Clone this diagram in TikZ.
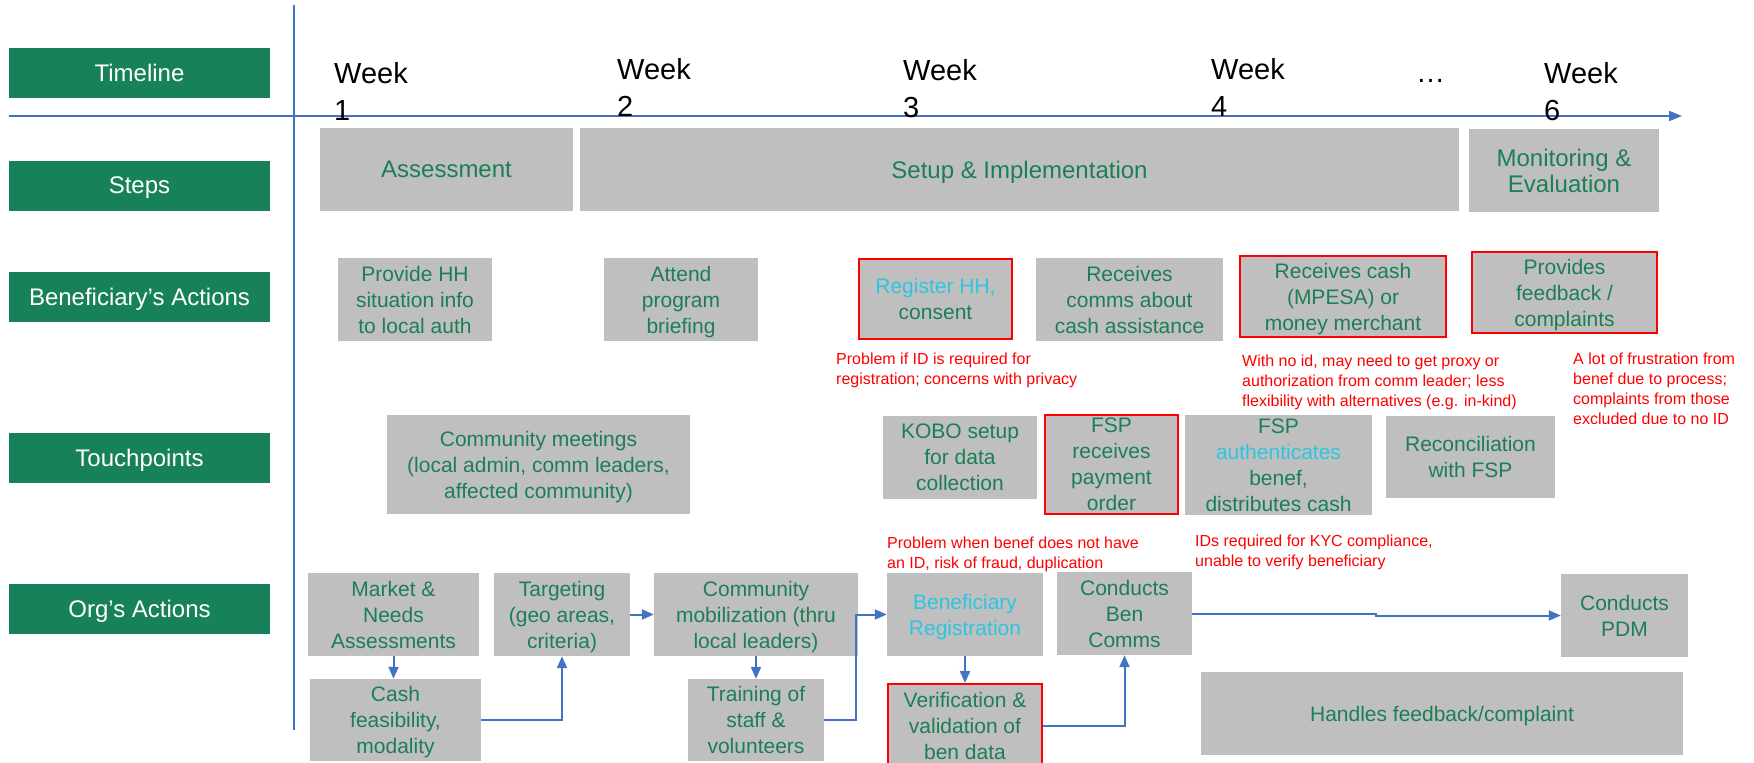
\documentclass[tikz,border=0pt]{standalone}
\usepackage{fontspec}
\setmainfont{Liberation Sans}
\usetikzlibrary{arrows.meta}

\definecolor{hdrgreen}{HTML}{178259}
\definecolor{txtgreen}{HTML}{1B7F56}
\definecolor{boxgray}{HTML}{BFBFBF}
\definecolor{flowblue}{HTML}{4472C4}
\definecolor{idcyan}{HTML}{2EC5E0}
\definecolor{alertred}{HTML}{FF0000}

% a line whose descenders should not shift the vertical centring
\newcommand{\nodesc}[1]{\raisebox{0pt}[\height][0pt]{#1}}

\tikzset{
  header/.style={fill=hdrgreen, text=white, minimum width=261, minimum height=50,
    inner sep=0, font=\fontsize{24}{28}\selectfont},
  stage/.style={fill=boxgray, text=txtgreen, inner sep=0, align=center,
    font=\fontsize{24}{26}\selectfont},
  act/.style={fill=boxgray, text=txtgreen, inner sep=0, align=center,
    font=\fontsize{21}{26}\selectfont},
  flagged/.style={draw=alertred, line width=2},
  note/.style={text=alertred, anchor=north west, inner sep=0, align=left,
    font=\fontsize{16}{20}\selectfont},
  week/.style={anchor=north west, inner sep=0, align=left,
    font=\fontsize{29}{37}\selectfont},
  flow/.style={draw=flowblue, line width=2, -{Triangle[length=12,width=10]}},
  axis/.style={draw=flowblue, line width=2},
}

\begin{document}
\begin{tikzpicture}[x=1pt, y=-1pt]
\useasboundingbox (0,0) rectangle (1754,763);
\clip (0,0) rectangle (1754,763);

% ---- axes ----
\coordinate (tstart) at (9,116);
\coordinate (tend) at (1682,116);
\coordinate (vtop) at (294,5);
\coordinate (vbot) at (294,730);
\draw[axis, -{Triangle[length=13,width=10]}] (tstart) -- (tend);
\draw[axis] (vtop) -- (vbot);

% ---- row headers ----
\node[header] (hTime)  at (139.5,73)   {Timeline};
\node[header] (hSteps) at (139.5,185.5) {\nodesc{Steps}};
\node[header] (hBen)   at (139.5,297)  {\nodesc{Beneficiary’s Actions}};
\node[header] (hTouch) at (139.5,458)  {\nodesc{Touchpoints}};
\node[header] (hOrg)   at (139.5,609)  {\nodesc{Org’s Actions}};

% ---- timeline ----
\node[week] (w1) at (334,62) {Week\\1};
\node[week] (w2) at (617,58) {Week\\2};
\node[week] (w3) at (903,59) {Week\\3};
\node[week] (w4) at (1211,58) {Week\\4};
\node[anchor=base west, inner sep=0, font=\fontsize{29}{37}\selectfont] (wdots) at (1416,82) {…};
\node[week] (w6) at (1544,62) {Week\\6};

% ---- steps ----
\node[stage, minimum width=253, minimum height=83] (sAssess) at (446.5,169.5) {Assessment};
\node[stage, minimum width=879, minimum height=83] (sSetup) at (1019.5,169.5) {\nodesc{Setup \& Implementation}};
\node[stage, minimum width=190, minimum height=83] (sMon) at (1564,170.5) {Monitoring \&\\Evaluation};

% ---- beneficiary's actions ----
\node[act, minimum width=154, minimum height=83] (bInfo) at (415,299.5) {Provide HH\\situation info\\to local auth};
\node[act, minimum width=154, minimum height=83] (bBrief) at (681,299.5) {Attend\\program\\\nodesc{briefing}};
\node[act, flagged, minimum width=153, minimum height=80] (bReg) at (935.5,299) {\textcolor{idcyan}{Register HH,}\\consent};
\node[act, minimum width=187, minimum height=83] (bComms) at (1129.5,299.5) {Receives\\comms about\\cash assistance};
\node[act, flagged, minimum width=206, minimum height=81] (bCash) at (1343,296.5) {Receives cash\\(MPESA) or\\\nodesc{money merchant}};
\node[act, flagged, minimum width=185, minimum height=81] (bFeed) at (1564.5,292.5) {Provides\\feedback /\\\nodesc{complaints}};

\node[note] (nReg) at (836,353) {Problem if ID is required for\\registration; concerns with privacy};
\node[note] (nCash) at (1242,355) {With no id, may need to get proxy or\\authorization from comm leader; less\\flexibility with alternatives (e.g. in-kind)};
\node[note] (nFeed) at (1573,353) {A lot of frustration from\\benef due to process;\\complaints from those\\excluded due to no ID};

% ---- touchpoints ----
\node[act, minimum width=303, minimum height=99] (tMeet) at (538.5,464.5) {Community meetings\\(local admin, comm leaders,\\\nodesc{affected community)}};
\node[act, minimum width=154, minimum height=83] (tKobo) at (960,457.5) {KOBO setup\\for data\\collection};
\node[act, flagged, minimum width=133, minimum height=99] (tOrder) at (1111.5,464.5) {FSP\\receives\\payment\\order};
\node[act, minimum width=187, minimum height=100] (tAuth) at (1278.5,465) {FSP\\\textcolor{idcyan}{authenticates}\\benef,\\distributes cash};
\node[act, minimum width=169, minimum height=82] (tRecon) at (1470.5,457) {Reconciliation\\with FSP};

\node[note] (nBenReg) at (887,537) {Problem when benef does not have\\an ID, risk of fraud, duplication};
\node[note] (nKyc) at (1195,535) {IDs required for KYC compliance,\\unable to verify beneficiary};

% ---- org's actions ----
\node[act, minimum width=171, minimum height=83] (oMarket) at (393.5,614.5) {Market \&\\Needs\\Assessments};
\node[act, minimum width=136, minimum height=83] (oTarget) at (562,614.5) {Targeting\\(geo areas,\\\nodesc{criteria)}};
\node[act, minimum width=204, minimum height=83] (oMobil) at (756,614.5) {Community\\mobilization (thru\\\nodesc{local leaders)}};
\node[act, minimum width=171, minimum height=82] (oCash) at (395.5,720) {Cash\\feasibility,\\\nodesc{modality}};
\node[act, minimum width=136, minimum height=82] (oTrain) at (756,720) {Training of\\staff \&\\volunteers};
\node[act, minimum width=156, minimum height=83] (oBenReg) at (965,614.5) {\textcolor{idcyan}{Beneficiary}\\\nodesc{\textcolor{idcyan}{Registration}}};
\node[act, flagged, minimum width=154, minimum height=84] (oVerif) at (965,726) {Verification \&\\validation of\\ben data};
\node[act, minimum width=135, minimum height=83] (oComms) at (1124.5,613.5) {Conducts\\Ben\\Comms};
\node[act, minimum width=127, minimum height=83] (oPdm) at (1624.5,615.5) {Conducts\\PDM};
\node[act, minimum width=482, minimum height=83] (oHandle) at (1442,713.5) {\nodesc{Handles feedback/complaint}};

% ---- flow connectors ----
\draw[flow] (oMarket.south) -- (oMarket.south |- oCash.north);
\draw[flow] (oCash.east) -| (oTarget.south);
\draw[flow] (oTarget.east) -- (oMobil.west);
\draw[flow] (oMobil.south) -- (oTrain.north);
\draw[flow] (oTrain.east) -- ++(32,0) |- (oBenReg.west);
\draw[flow] (oBenReg.south) -- (oVerif.north);
\draw[flow] (oVerif.east) -| (oComms.south);
\draw[flow] (oComms.east) -- ++(184,0) |- (oPdm.west);

\end{tikzpicture}
\end{document}
